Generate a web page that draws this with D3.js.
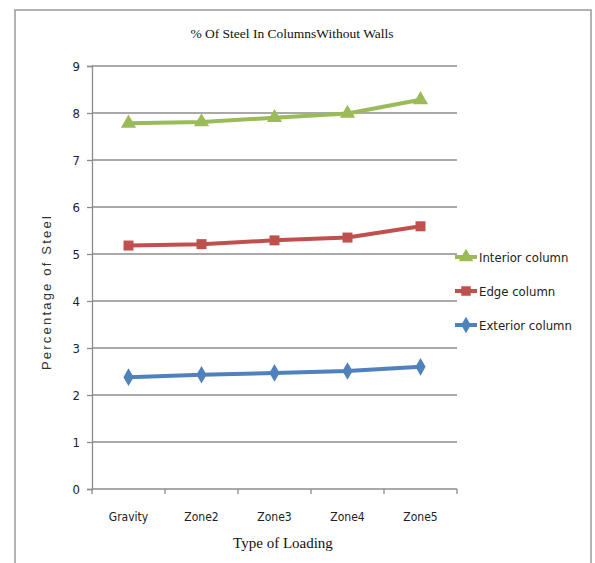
<!DOCTYPE html>
<html>
<head>
<meta charset="utf-8">
<script src="https://cdn.jsdelivr.net/npm/d3@7"></script>
<style>
  html, body { margin: 0; padding: 0; background: #fff; }
  svg { display: block; }
</style>
</head>
<body>
<svg id="chart" width="595" height="563"></svg>
<script>
// Loading cases on the x axis
const categories = ["Gravity", "Zone2", "Zone3", "Zone4", "Zone5"];
// Percentage of steel for each column type
const interiorColumn = [7.78, 7.81, 7.90, 7.99, 8.28];
const edgeColumn     = [5.18, 5.21, 5.29, 5.35, 5.59];
const exteriorColumn = [2.38, 2.43, 2.47, 2.51, 2.60];
const yTicks = [0, 1, 2, 3, 4, 5, 6, 7, 8, 9];
const seriesNames = ["Interior column", "Edge column", "Exterior column"];

const series = [
  { name: seriesNames[0], values: interiorColumn, color: "#9BBB59", symbol: d3.symbolTriangle },
  { name: seriesNames[1], values: edgeColumn,     color: "#C0504D", symbol: d3.symbolSquare },
  { name: seriesNames[2], values: exteriorColumn, color: "#4F81BD", symbol: d3.symbolDiamond }
];

const svg = d3.select("#chart");
const plot = { left: 92, right: 457, top: 66, bottom: 489 };
const sansCond = "'Liberation Sans Narrow', 'DejaVu Sans Condensed', 'Liberation Sans', sans-serif";

// Outer chart frame
svg.append("rect")
  .attr("x", 15).attr("y", 10)
  .attr("width", 576).attr("height", 570)
  .attr("fill", "none").attr("stroke", "#9a9a9a").attr("stroke-width", 1.5);

const x = d3.scaleBand().domain(categories).range([plot.left, plot.right]);
const y = d3.scaleLinear().domain([0, 9]).range([plot.bottom, plot.top]);

// Horizontal gridlines
svg.append("g").selectAll("line")
  .data(yTicks.filter(t => t > 0))
  .join("line")
  .attr("x1", plot.left).attr("x2", plot.right)
  .attr("y1", d => y(d)).attr("y2", d => y(d))
  .attr("stroke", "#8c8c8c").attr("stroke-width", 1.3);

// Y axis
const yAxis = svg.append("g")
  .attr("transform", `translate(${plot.left},0)`)
  .call(d3.axisLeft(y).tickValues(yTicks).tickSize(5).tickPadding(7));
yAxis.select(".domain").attr("stroke", "#8c8c8c").attr("stroke-width", 1.3);
yAxis.selectAll(".tick line").attr("stroke", "#8c8c8c").attr("stroke-width", 1.3);
yAxis.selectAll(".tick text")
  .attr("font-family", sansCond)
  .attr("font-size", 13).attr("fill", "#222");

// X axis, ticks at category boundaries
const xAxisG = svg.append("g").attr("transform", `translate(0,${plot.bottom})`);
xAxisG.append("line")
  .attr("x1", plot.left).attr("x2", plot.right)
  .attr("stroke", "#8c8c8c").attr("stroke-width", 1.3);
const boundaries = categories.map(c => x(c)).concat([x(categories[categories.length - 1]) + x.bandwidth()]);
xAxisG.selectAll("line.tk").data(boundaries).join("line")
  .attr("class", "tk")
  .attr("x1", d => d).attr("x2", d => d)
  .attr("y1", 0).attr("y2", 5)
  .attr("stroke", "#8c8c8c").attr("stroke-width", 1.3);
xAxisG.selectAll("text").data(categories).join("text")
  .attr("x", d => x(d) + x.bandwidth() / 2)
  .attr("y", 32)
  .attr("text-anchor", "middle")
  .attr("font-family", sansCond)
  .attr("font-size", 12).attr("fill", "#222")
  .text(d => d);

// Series lines and markers
const line = d3.line()
  .x((d, i) => x(categories[i]) + x.bandwidth() / 2)
  .y(d => y(d));

series.forEach(s => {
  svg.append("path")
    .datum(s.values)
    .attr("d", line)
    .attr("fill", "none")
    .attr("stroke", s.color)
    .attr("stroke-width", 4)
    .attr("stroke-linejoin", "round");
  svg.append("g").selectAll("path")
    .data(s.values)
    .join("path")
    .attr("transform", (d, i) => `translate(${x(categories[i]) + x.bandwidth() / 2},${y(d)})`)
    .attr("d", d3.symbol().type(s.symbol).size(s.symbol === d3.symbolDiamond ? 90 : 100))
    .attr("fill", s.color);
});

// Legend
const legend = svg.append("g");
series.forEach((s, i) => {
  const ly = 257 + i * 34;
  legend.append("line")
    .attr("x1", 455).attr("x2", 477).attr("y1", ly).attr("y2", ly)
    .attr("stroke", s.color).attr("stroke-width", 4);
  legend.append("path")
    .attr("transform", `translate(466,${ly})`)
    .attr("d", d3.symbol().type(s.symbol).size(s.symbol === d3.symbolDiamond ? 80 : 90))
    .attr("fill", s.color);
  legend.append("text")
    .attr("x", 479).attr("y", ly + 4.5)
    .attr("font-family", sansCond)
    .attr("font-size", 13).attr("fill", "#222")
    .text(s.name);
});

// Titles
svg.append("text")
  .attr("x", 292).attr("y", 38)
  .attr("text-anchor", "middle")
  .attr("font-family", "'Liberation Serif', 'Times New Roman', serif")
  .attr("font-size", 13.5).attr("fill", "#111")
  .text("% Of Steel In ColumnsWithout Walls");

svg.append("text")
  .attr("x", 283).attr("y", 548)
  .attr("text-anchor", "middle")
  .attr("font-family", "'Liberation Serif', 'Times New Roman', serif")
  .attr("font-size", 15).attr("fill", "#111")
  .text("Type of Loading");

svg.append("text")
  .attr("transform", "translate(51,292) rotate(-90)")
  .attr("text-anchor", "middle")
  .attr("font-family", "'Liberation Sans', Arial, sans-serif")
  .attr("font-size", 13).attr("letter-spacing", 2.2).attr("fill", "#333")
  .text("Percentage of Steel");
</script>
</body>
</html>
